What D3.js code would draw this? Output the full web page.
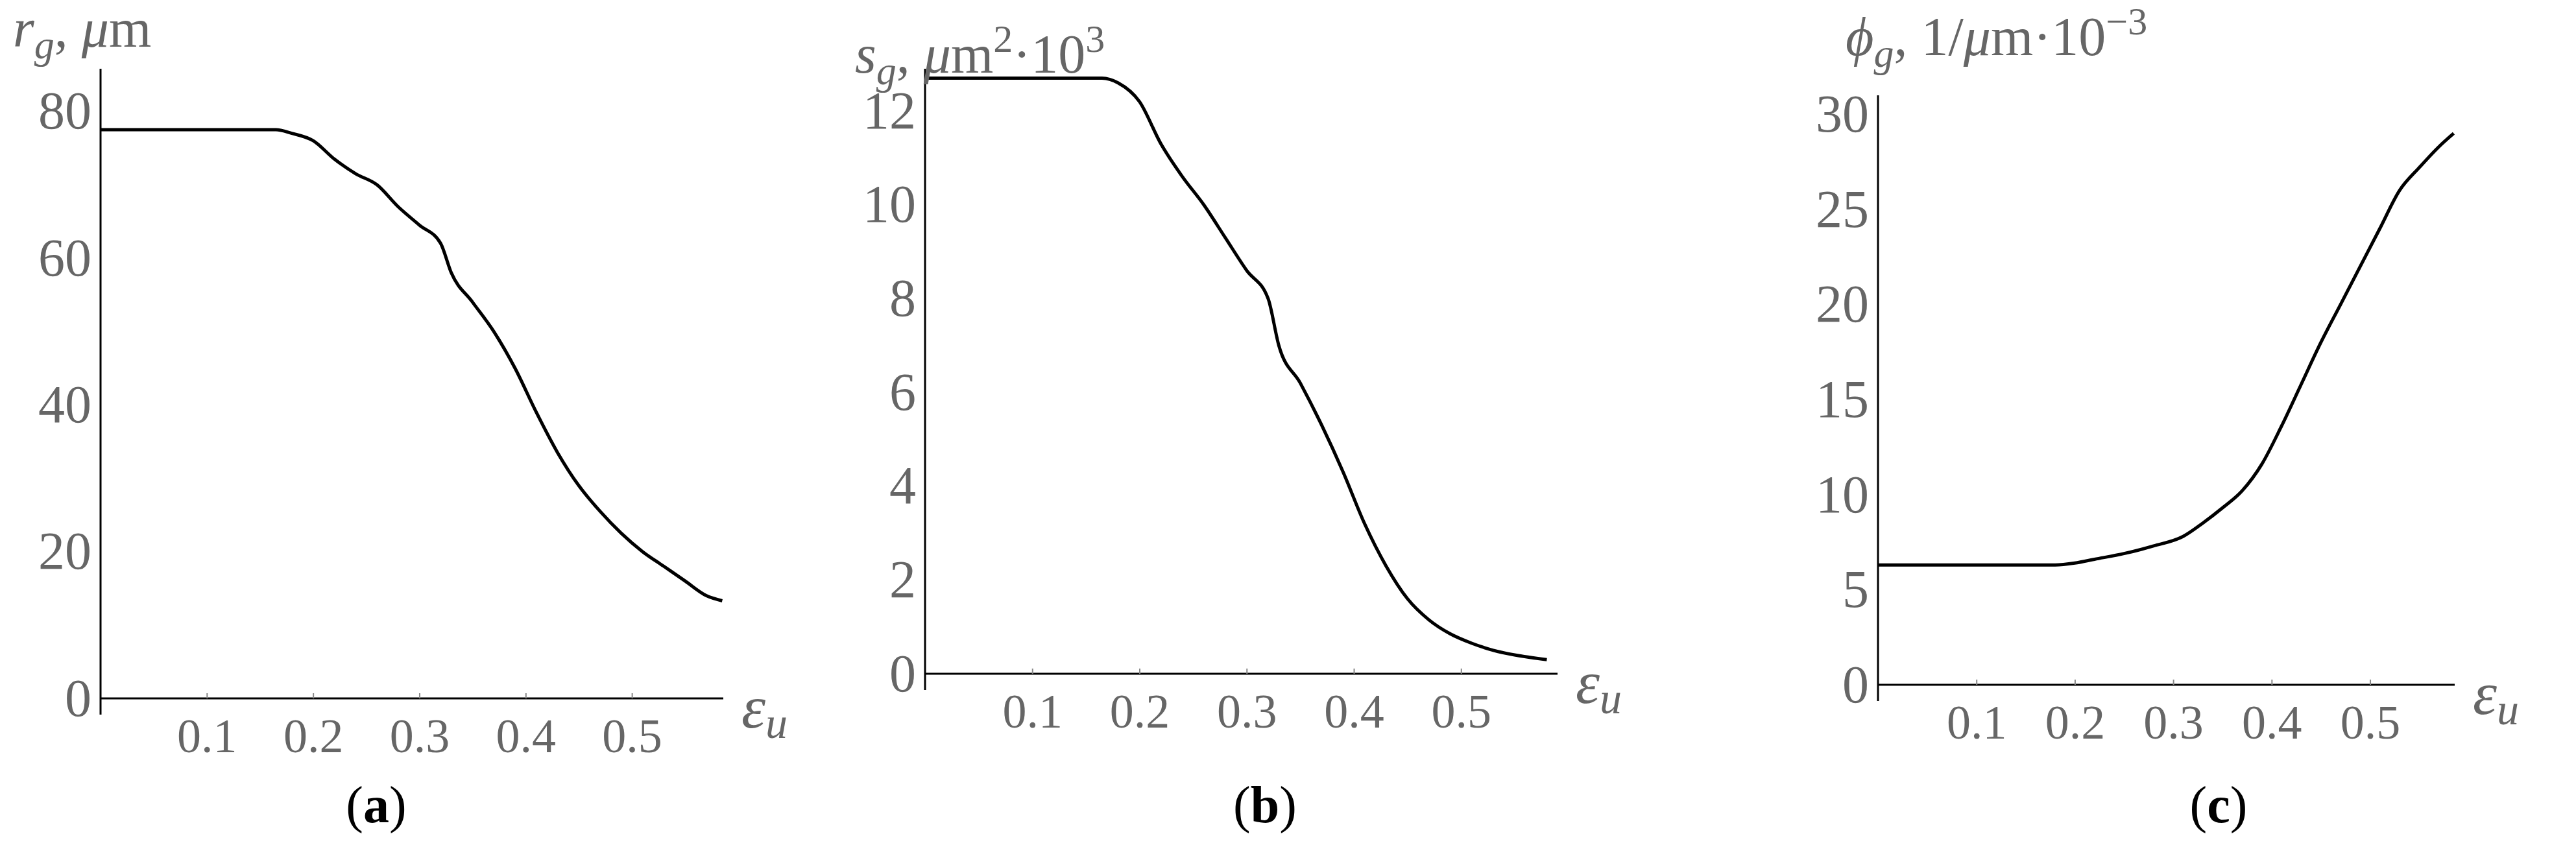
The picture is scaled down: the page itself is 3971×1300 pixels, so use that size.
<!DOCTYPE html>
<html>
<head>
<meta charset="utf-8">
<script src="https://cdn.jsdelivr.net/npm/d3@7"></script>
<style>
body { margin: 0; background: #fff; }
text { font-family: "Liberation Serif", "DejaVu Serif", serif; }
</style>
</head>
<body>
<svg id="chart" width="3971" height="1300"></svg>
<script>
// strain values and curves
var epsA = [0, 0.165, 0.18, 0.2, 0.22, 0.24, 0.26, 0.28, 0.30, 0.32, 0.33, 0.35, 0.37, 0.39, 0.41, 0.43, 0.45, 0.47, 0.49, 0.51, 0.53, 0.55, 0.57, 0.585];
var rg = [77.5, 77.5, 77, 76, 73.5, 71.5, 70, 67, 64.5, 62, 58, 54, 50, 45, 39, 33.5, 29, 25.5, 22.5, 20, 18, 16, 14, 13.3];

var epsB = [0, 0.165, 0.18, 0.2, 0.22, 0.24, 0.26, 0.28, 0.30, 0.32, 0.33, 0.35, 0.37, 0.39, 0.41, 0.43, 0.45, 0.47, 0.49, 0.51, 0.53, 0.55, 0.58];
var sg = [12.7, 12.7, 12.6, 12.2, 11.3, 10.6, 10, 9.3, 8.6, 8, 7, 6.2, 5.3, 4.3, 3.2, 2.3, 1.6, 1.15, 0.85, 0.65, 0.5, 0.4, 0.3];

var epsC = [0, 0.18, 0.2, 0.22, 0.25, 0.28, 0.31, 0.33, 0.35, 0.37, 0.39, 0.41, 0.43, 0.45, 0.47, 0.49, 0.51, 0.53, 0.55, 0.57, 0.585];
var phig = [6.3, 6.3, 6.4, 6.6, 6.9, 7.3, 7.8, 8.5, 9.3, 10.2, 11.6, 13.6, 15.8, 18.0, 20.0, 22.0, 24.0, 26.0, 27.2, 28.3, 29];

var xTicks = [0.1, 0.2, 0.3, 0.4, 0.5];
var ticksA = [0, 20, 40, 60, 80];
var ticksB = [0, 2, 4, 6, 8, 10, 12];
var ticksC = [0, 5, 10, 15, 20, 25, 30];

var svg = d3.select("#chart");

var panels = [
  {xs: epsA, ys: rg, yt: ticksA, x0: 155, x1: 1115, xmax: 0.586, y0: 1077, y1: 106, ymax: 85.8, letter: "a", lx: 580, tx: 20, ty: 72,
   title: [["r", "i"], ["g", "sub"], [", ", ""], ["\u03bc", "i"], ["m", ""]]},
  {xs: epsB, ys: sg, yt: ticksB, x0: 1426, x1: 2401, xmax: 0.59, y0: 1039, y1: 106, ymax: 12.9, letter: "b", lx: 1950, tx: 1318, ty: 112,
   title: [["s", "i"], ["g", "sub"], [", ", ""], ["\u03bc", "i"], ["m", ""], ["2", "sup"], ["\u00b710", ""], ["3", "sup"]]},
  {xs: epsC, ys: phig, yt: ticksC, x0: 2895, x1: 3784, xmax: 0.586, y0: 1056, y1: 147, ymax: 31, letter: "c", lx: 3420, tx: 2845, ty: 85,
   title: [["\u03d5", "i"], ["g", "sub"], [", 1/", ""], ["\u03bc", "i"], ["m\u00b710", ""], ["\u22123", "sup"]]}
];

panels.forEach(function(p){
  var x = d3.scaleLinear().domain([0, p.xmax]).range([p.x0, p.x1]);
  var y = d3.scaleLinear().domain([0, p.ymax]).range([p.y0, p.y1]);

  var gx = svg.append("g").attr("transform", "translate(0," + p.y0 + ")")
    .call(d3.axisBottom(x).tickValues(xTicks).tickSize(-8).tickPadding(30).tickFormat(d3.format(".1f")));
  gx.select(".domain").attr("d", "M" + p.x0 + ",0H" + p.x1).attr("stroke", "#000").attr("stroke-width", 3);
  gx.selectAll(".tick line").attr("stroke", "#888").attr("stroke-width", 2);
  gx.selectAll(".tick text").attr("fill", "#666").attr("font-size", 74);

  var gy = svg.append("g").attr("transform", "translate(" + p.x0 + ",0)")
    .call(d3.axisLeft(y).tickValues(p.yt).tickSize(0).tickPadding(14));
  gy.select(".domain").attr("d", "M0," + (p.y0 + 25) + "V" + p.y1).attr("stroke", "#000").attr("stroke-width", 3);
  gy.selectAll(".tick text").attr("fill", "#666").attr("font-size", 82);

  var line = d3.line().x(function(d){ return x(d[0]); }).y(function(d){ return y(d[1]); }).curve(d3.curveMonotoneX);
  svg.append("path").datum(d3.zip(p.xs, p.ys))
    .attr("fill", "none").attr("stroke", "#000").attr("stroke-width", 5)
    .attr("stroke-linejoin", "round").attr("d", line);

  // epsilon label
  var e = svg.append("text").attr("x", p.x1 + 28).attr("y", p.y0 + 45).attr("fill", "#666").attr("font-size", 94);
  e.append("tspan").attr("font-style", "italic").text("\u03b5");
  e.append("tspan").attr("font-style", "italic").attr("font-size", 68).attr("dy", 16).text("u");

  // axis title
  var t = svg.append("text").attr("x", p.tx).attr("y", p.ty).attr("fill", "#666").attr("font-size", 84);
  var shift = 0;
  p.title.forEach(function(s){
    var ts = t.append("tspan").text(s[0]);
    var target = 0;
    if (s[1] === "i") ts.attr("font-style", "italic");
    if (s[1] === "sub") { ts.attr("font-style", "italic").attr("font-size", 62); target = 18; }
    if (s[1] === "sup") { ts.attr("font-size", 60); target = -32; }
    ts.attr("dy", target - shift);
    shift = target;
  });

  // panel letter
  var l = svg.append("text").attr("x", p.lx).attr("y", 1268).attr("font-size", 80).attr("fill", "#000").attr("text-anchor", "middle");
  l.append("tspan").text("(");
  l.append("tspan").attr("font-weight", "bold").text(p.letter);
  l.append("tspan").text(")");
});
</script>
</body>
</html>
